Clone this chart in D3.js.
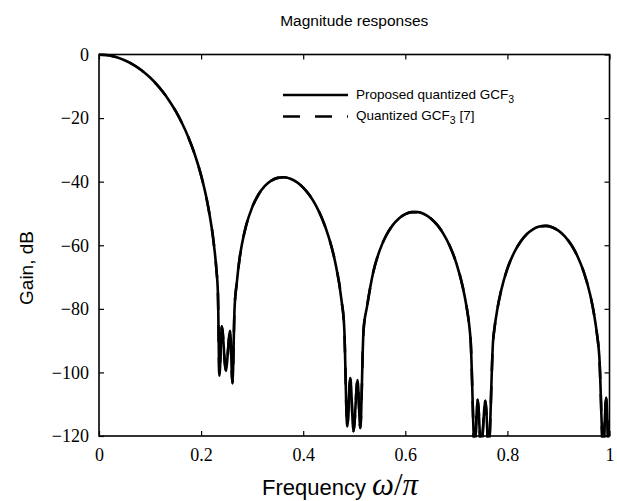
<!DOCTYPE html>
<html>
<head>
<meta charset="utf-8">
<script src="https://cdn.jsdelivr.net/npm/d3@7"></script>
<style>
  html, body { margin: 0; padding: 0; background: #fff; }
  svg { display: block; }
</style>
</head>
<body>
<svg id="chart" width="617" height="501"></svg>
<script>
// ---- data ----
const chartTitle = "Magnitude responses";
const seriesNames = ["Proposed quantized GCF", "Quantized GCF"];
const xTicks = [0, 0.2, 0.4, 0.6, 0.8, 1];
const xTickLabels = ["0", "0.2", "0.4", "0.6", "0.8", "1"];
const yTicks = [0, -20, -40, -60, -80, -100, -120];
const yTickLabels = ["0", "\u221220", "\u221240", "\u221260", "\u221280", "\u2212100", "\u2212120"];

// normalized frequency (omega/pi)
const frequency = [
  0, 0.0125, 0.025, 0.0375, 0.05, 0.0625, 0.075, 0.0875, 0.1, 0.1125,
  0.125, 0.1375, 0.15, 0.1625, 0.175, 0.1875, 0.2, 0.2125, 0.225, 0.23,
  0.233, 0.2359, 0.2406, 0.2484, 0.2569, 0.2614, 0.2655, 0.27, 0.275, 0.28,
  0.2875, 0.3, 0.3125, 0.325, 0.3375, 0.35, 0.3625, 0.375, 0.3875, 0.4,
  0.4125, 0.425, 0.4375, 0.45, 0.4625, 0.475, 0.4804, 0.4863, 0.4922, 0.4986,
  0.5065, 0.5118, 0.5182, 0.525, 0.5375, 0.55, 0.5625, 0.575, 0.5875, 0.6,
  0.6125, 0.625, 0.6375, 0.65, 0.6625, 0.675, 0.6875, 0.7, 0.7125, 0.72,
  0.725, 0.728, 0.7359, 0.7418, 0.7484, 0.7569, 0.7633, 0.772, 0.775, 0.78,
  0.7875, 0.8, 0.8125, 0.825, 0.8375, 0.85, 0.8625, 0.875, 0.8875, 0.9,
  0.9125, 0.925, 0.9375, 0.95, 0.9625, 0.97, 0.975, 0.98, 0.9876, 0.9935,
  0.9985, 1.0
];
// gain in dB, proposed quantized GCF3 (solid)
const proposedGain = [
  -0.1, -0.18, -0.5, -1.03, -1.79, -2.77, -4.0, -5.49, -7.25, -9.32,
  -11.73, -14.52, -17.76, -21.55, -26.01, -31.38, -38.03, -46.75, -59.68, -67.7,
  -75.5, -101, -85.5, -99.4, -86.9, -103.4, -80, -71.7, -64.65, -59.7,
  -54.24, -48.08, -44.04, -41.36, -39.68, -38.81, -38.62, -39.08, -40.15, -41.88,
  -44.3, -47.54, -51.79, -57.42, -65.19, -77.26, -86, -117, -101.8, -118.5,
  -102.4, -117.5, -86.7, -79.31, -68.27, -61.53, -56.94, -53.74, -51.56, -50.21,
  -49.57, -49.59, -50.25, -51.57, -53.61, -56.48, -60.37, -65.66, -73.1, -79.35,
  -84.84, -90, -124, -108.6, -124, -108.9, -124, -90, -85.69, -80.36,
  -74.38, -67.36, -62.5, -59.04, -56.6, -55.0, -54.12, -53.89, -54.32, -55.41,
  -57.22, -59.86, -63.52, -68.59, -75.81, -81.92, -87.34, -94.8, -124, -108,
  -124, -124
];
// gain in dB, quantized GCF3 [7] (dashed) - coincides with the solid curve in the picture
const referenceGain = [
  -0.1, -0.18, -0.5, -1.03, -1.79, -2.77, -4.0, -5.49, -7.25, -9.32,
  -11.73, -14.52, -17.76, -21.55, -26.01, -31.38, -38.03, -46.75, -59.68, -67.7,
  -75.5, -101, -85.5, -99.4, -86.9, -103.4, -80, -71.7, -64.65, -59.7,
  -54.24, -48.08, -44.04, -41.36, -39.68, -38.81, -38.62, -39.08, -40.15, -41.88,
  -44.3, -47.54, -51.79, -57.42, -65.19, -77.26, -86, -117, -101.8, -118.5,
  -102.4, -117.5, -86.7, -79.31, -68.27, -61.53, -56.94, -53.74, -51.56, -50.21,
  -49.57, -49.59, -50.25, -51.57, -53.61, -56.48, -60.37, -65.66, -73.1, -79.35,
  -84.84, -90, -124, -108.6, -124, -108.9, -124, -90, -85.69, -80.36,
  -74.38, -67.36, -62.5, -59.04, -56.6, -55.0, -54.12, -53.89, -54.32, -55.41,
  -57.22, -59.86, -63.52, -68.59, -75.81, -81.92, -87.34, -94.8, -124, -108,
  -124, -124
];

// ---- drawing ----
const svg = d3.select("#chart");
const L = 99, R = 609.5, T = 54.5, B = 436;
const x = d3.scaleLinear().domain([0, 1]).range([L, R]);
const y = d3.scaleLinear().domain([-120, 0]).range([B, T]);

const serif = "'Liberation Serif', 'Times New Roman', serif";
const sans = "'Liberation Sans', Arial, Helvetica, sans-serif";

svg.append("defs").append("clipPath").attr("id", "plotclip")
  .append("rect").attr("x", L - 1.5).attr("y", T - 1.5)
  .attr("width", R - L + 3).attr("height", B - T + 3);

const line = d3.line()
  .x((d, i) => x(frequency[i]))
  .y(d => y(d))
  .curve(d3.curveMonotoneX);

const plot = svg.append("g").attr("clip-path", "url(#plotclip)");
plot.append("path").datum(referenceGain)
  .attr("d", line).attr("fill", "none").attr("stroke", "#000")
  .attr("stroke-width", 2.6).attr("stroke-dasharray", "17,15")
  .attr("stroke-linejoin", "round");
plot.append("path").datum(proposedGain)
  .attr("d", line).attr("fill", "none").attr("stroke", "#000")
  .attr("stroke-width", 2.6).attr("stroke-linejoin", "round");

// axes
function styleAxis(g) {
  g.select(".domain").remove();
  g.selectAll(".tick line").attr("stroke", "#000").attr("stroke-width", 1.2);
  g.selectAll(".tick text").attr("fill", "#000")
    .style("font-family", serif).style("font-size", "18px");
}
svg.append("g").attr("transform", `translate(0,${B})`)
  .call(d3.axisBottom(x).tickValues(xTicks)
    .tickFormat((d, i) => xTickLabels[i]).tickSizeInner(-5).tickSizeOuter(0).tickPadding(12))
  .call(styleAxis);
svg.append("g").attr("transform", `translate(0,${T})`)
  .call(d3.axisTop(x).tickValues(xTicks).tickFormat("").tickSizeInner(-5).tickSizeOuter(0))
  .call(styleAxis);
svg.append("g").attr("transform", `translate(${L},0)`)
  .call(d3.axisLeft(y).tickValues(yTicks)
    .tickFormat((d, i) => yTickLabels[i]).tickSizeInner(-5).tickSizeOuter(0).tickPadding(10))
  .call(styleAxis);
svg.append("g").attr("transform", `translate(${R},0)`)
  .call(d3.axisRight(y).tickValues(yTicks).tickFormat("").tickSizeInner(-5).tickSizeOuter(0))
  .call(styleAxis);

// frame
svg.append("rect").attr("x", L).attr("y", T)
  .attr("width", R - L).attr("height", B - T)
  .attr("fill", "none").attr("stroke", "#000").attr("stroke-width", 1.6);

// title
svg.append("text").attr("x", (L + R) / 2).attr("y", 26)
  .attr("text-anchor", "middle").style("font-family", sans).style("font-size", "15.5px")
  .text(chartTitle);

// y label
svg.append("text").attr("transform", `translate(33,268) rotate(-90)`)
  .attr("text-anchor", "middle").style("font-family", sans).style("font-size", "19px")
  .text("Gain, dB");

// x label
const xl = svg.append("text").attr("x", 340).attr("y", 495)
  .attr("text-anchor", "middle").style("font-family", sans).style("font-size", "22px");
xl.append("tspan").text("Frequency ");
xl.append("tspan").style("font-family", serif).style("font-style", "italic")
  .style("font-size", "31px").text("\u03c9");
xl.append("tspan").style("font-family", serif).style("font-size", "31px").text("/");
xl.append("tspan").style("font-family", serif).style("font-style", "italic")
  .style("font-size", "31px").text("\u03c0");

// legend
const legendRows = [
  { name: seriesNames[0], dash: null, ly: 95, ty: 98.5, tail: "" },
  { name: seriesNames[1], dash: "17,15", ly: 116.5, ty: 120, tail: " [7]" }
];
const lg = svg.append("g");
legendRows.forEach(r => {
  lg.append("line").attr("x1", 283).attr("x2", 348).attr("y1", r.ly).attr("y2", r.ly)
    .attr("stroke", "#000").attr("stroke-width", 2.6)
    .attr("stroke-dasharray", r.dash);
  const t = lg.append("text").attr("x", 356).attr("y", r.ty)
    .style("font-family", sans).style("font-size", "13.5px");
  t.append("tspan").text(r.name);
  t.append("tspan").attr("dy", 4).style("font-size", "10.5px").text("3");
  if (r.tail) t.append("tspan").attr("dy", -4).text(r.tail);
});
</script>
</body>
</html>
